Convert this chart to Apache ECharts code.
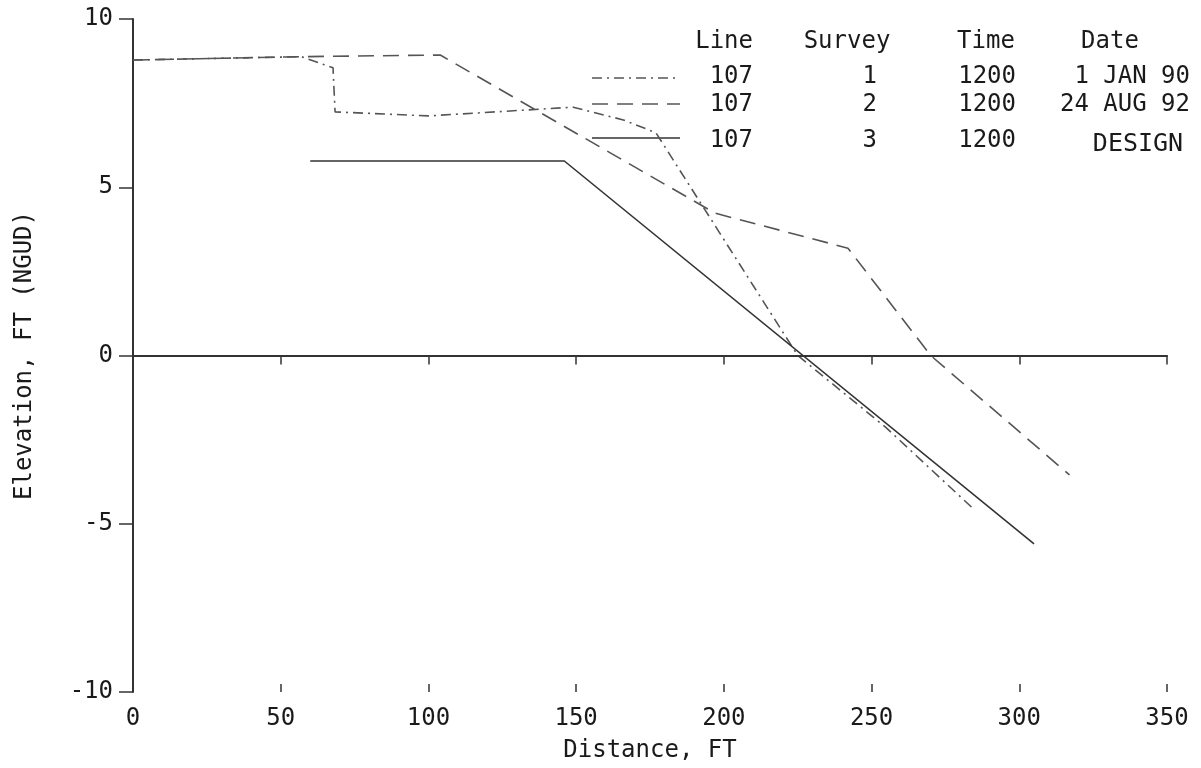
<!DOCTYPE html>
<html>
<head>
<meta charset="utf-8">
<script src="https://cdn.jsdelivr.net/npm/echarts@6/dist/echarts.min.js"></script>
<style>
html,body{margin:0;padding:0;background:#fff;}
#chart{width:1201px;height:768px;}
</style>
</head>
<body>
<div id="chart"></div>
<script>
// ---- data ----
const xTicks = [0, 50, 100, 150, 200, 250, 300, 350];
const yTicks = [-10, -5, 0, 5, 10];

// Survey 1 (1 JAN 90) - dash-dot
const survey1Dist = [0, 57, 67.7, 68.4, 100, 149, 166, 177, 225, 255, 285];
const survey1Elev = [8.78, 8.88, 8.55, 7.24, 7.12, 7.38, 7.0, 6.62, 0, -2.15, -4.6];

// Survey 2 (24 AUG 92) - dashed
const survey2Dist = [0, 57, 104, 197, 242, 270, 317];
const survey2Elev = [8.78, 8.88, 8.93, 4.23, 3.19, 0, -3.55];

// Survey 3 (DESIGN) - solid
const survey3Dist = [60, 146, 305];
const survey3Elev = [5.78, 5.78, -5.6];

// legend table
const legendHeaders = ['Line', 'Survey', 'Time', 'Date'];
const legendLines = ['107', '107', '107'];
const legendSurveys = ['1', '2', '3'];
const legendTimes = ['1200', '1200', '1200'];
const legendDates = ['1 JAN 90', '24 AUG 92', 'DESIGN'];

const zip = (a, b) => a.map((v, i) => [v, b[i]]);

const FONT = '"DejaVu Sans Mono", "Liberation Mono", monospace';
const TXT = '#1a1a1a';
const LF = '24px ' + FONT;

const chart = echarts.init(document.getElementById('chart'), null, {renderer: 'canvas'});

const rowY = [77, 105, 141];
const sampleY = [78, 104, 138];
const dashStyles = [[10, 5, 2, 5], [16, 9], null];
const sampleX = [[592, 680], [592, 680], [592, 680]];

const graphics = [];
const headerPos = [[753, 'right'], [847, 'center'], [986, 'center'], [1110, 'center']];
legendHeaders.forEach((h, i) => {
  graphics.push({type: 'text', x: headerPos[i][0], y: 42,
    style: {text: h, font: LF, fill: TXT, textAlign: headerPos[i][1], textVerticalAlign: 'middle'}});
});
for (let r = 0; r < 3; r++) {
  graphics.push({type: 'text', x: 753, y: rowY[r],
    style: {text: legendLines[r], font: LF, fill: TXT, textAlign: 'right', textVerticalAlign: 'middle'}});
  graphics.push({type: 'text', x: 877, y: rowY[r],
    style: {text: legendSurveys[r], font: LF, fill: TXT, textAlign: 'right', textVerticalAlign: 'middle'}});
  graphics.push({type: 'text', x: 1016, y: rowY[r],
    style: {text: legendTimes[r], font: LF, fill: TXT, textAlign: 'right', textVerticalAlign: 'middle'}});
  if (r < 2) {
    graphics.push({type: 'text', x: 1190, y: rowY[r],
      style: {text: legendDates[r], font: LF, fill: TXT, textAlign: 'right', textVerticalAlign: 'middle'}});
  } else {
    graphics.push({type: 'text', x: 1138, y: rowY[r] + 3,
      style: {text: legendDates[r], font: '25px ' + FONT, fill: TXT, textAlign: 'center', textVerticalAlign: 'middle'}});
  }
  const ls = {stroke: r === 2 ? '#333' : '#555', lineWidth: 1.6};
  if (dashStyles[r]) ls.lineDash = dashStyles[r];
  graphics.push({type: 'line', shape: {x1: sampleX[r][0], y1: sampleY[r], x2: sampleX[r][1], y2: sampleY[r]}, style: ls});
}

const axisLabelStyle = {fontFamily: FONT, fontSize: 24, color: TXT};

chart.setOption({
  animation: false,
  backgroundColor: '#fff',
  grid: {left: 133, right: 34, top: 19, bottom: 76, containLabel: false, outerBoundsMode: 'none'},
  xAxis: [{
    type: 'value', min: 0, max: 350, interval: 50,
    name: 'Distance, FT', nameLocation: 'middle', nameGap: 47,
    nameTextStyle: {fontFamily: FONT, fontSize: 24, color: TXT},
    axisLine: {show: true, lineStyle: {color: '#333', width: 2}},
    axisTick: {show: true, length: 9, lineStyle: {color: '#333', width: 1.5}},
    axisLabel: {...axisLabelStyle, margin: 15},
    splitLine: {show: false}
  }, {
    type: 'value', min: 0, max: 350, interval: 50, position: 'bottom',
    axisLine: {show: false},
    axisTick: {show: true, inside: true, length: 8, lineStyle: {color: '#333', width: 1.5}},
    axisLabel: {show: false},
    splitLine: {show: false}
  }],
  yAxis: {
    type: 'value', min: -10, max: 10, interval: 5,
    name: 'Elevation, FT (NGUD)', nameLocation: 'middle', nameGap: 96,
    nameTextStyle: {fontFamily: FONT, fontSize: 24, color: TXT},
    axisLine: {show: true, lineStyle: {color: '#333', width: 2}},
    axisTick: {show: true, length: 14, lineStyle: {color: '#333', width: 1.5}},
    axisLabel: {...axisLabelStyle, margin: 20},
    splitLine: {show: false}
  },
  graphic: graphics,
  series: [{
    name: '1 JAN 90', type: 'line', data: zip(survey1Dist, survey1Elev),
    showSymbol: false, lineStyle: {color: '#555', width: 1.6, type: [10, 5, 2, 5]},
    markLine: {silent: true, symbol: 'none', label: {show: false},
      lineStyle: {color: '#333', width: 2, type: 'solid'},
      data: [{yAxis: 0}]}
  }, {
    name: '24 AUG 92', type: 'line', data: zip(survey2Dist, survey2Elev),
    showSymbol: false, lineStyle: {color: '#555', width: 1.6, type: [16, 9]}
  }, {
    name: 'DESIGN', type: 'line', data: zip(survey3Dist, survey3Elev),
    showSymbol: false, lineStyle: {color: '#333', width: 1.6, type: 'solid'}
  }]
});
</script>
</body>
</html>
